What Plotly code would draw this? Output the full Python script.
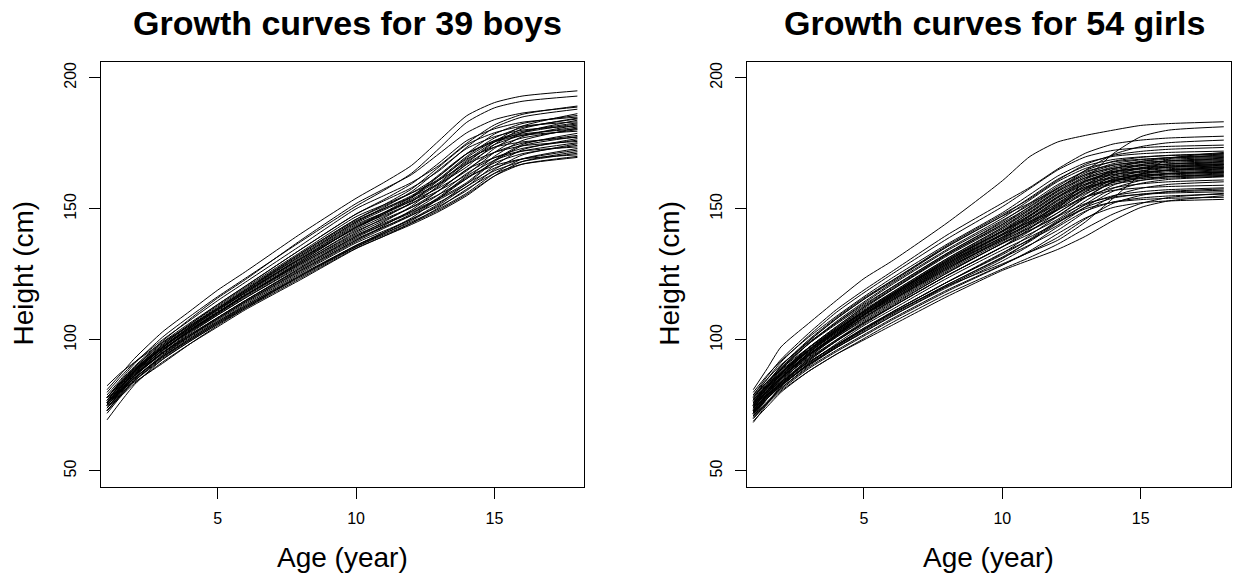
import plotly.graph_objects as go

# ---- data ----
AGES = [1, 1.5, 2, 3, 4, 5, 6, 8, 10, 11, 12, 13, 14, 15, 16, 18]

BOYS = [
    [81, 87, 93, 103, 111, 119, 126, 140.5, 154, 160, 166.5, 176, 185.5, 190.5, 193, 195],
    [79, 85, 91, 101, 109, 116.5, 123.5, 137.5, 151, 157, 163.5, 173, 183, 188.5, 191, 193],
    [80, 86, 91.5, 100, 107.5, 115, 122, 136, 150, 155, 160, 166.5, 175, 182, 186, 189.2],
    [78, 84.5, 90, 99.5, 108, 116, 123, 138, 152, 157.5, 163, 171, 179, 184, 186.5, 188.8],
    [77, 83.5, 89.5, 99, 106.5, 113.5, 120.5, 134.5, 148, 153, 158, 164.5, 173.5, 181, 185, 188],
    [78, 84, 89.5, 98.5, 106, 113, 120, 133.5, 147, 151.5, 156, 161, 167.5, 175.5, 181.5, 186.3],
    [76, 82.5, 88.5, 98, 105.5, 112.5, 119.5, 133, 146, 151, 156, 162.5, 171, 178.5, 182.5, 185.6],
    [77, 83, 89, 98, 106, 113.5, 120.5, 134.5, 148, 153.5, 159.5, 167.5, 176, 180.5, 183, 185],
    [75, 81.5, 87.5, 97, 105, 112, 119, 132, 145, 150, 155, 161.5, 170, 177, 181, 184.3],
    [76, 82, 88, 97, 104.5, 111.5, 118, 131, 144, 148.5, 153, 158, 164.5, 173, 179, 183.8],
    [78, 84, 89, 97.5, 105, 112, 119, 133, 146, 151.5, 157.5, 166, 174.5, 179, 181.5, 183.2],
    [74, 80.5, 86.5, 96, 104, 111, 118, 131.5, 144.5, 149.5, 154.5, 161, 169.5, 176, 179.5, 182.8],
    [77, 83, 88.5, 97, 104.5, 111.5, 118, 131, 143.5, 148.5, 153.5, 160, 168.5, 175.5, 179, 182.4],
    [75, 81, 87, 96, 103.5, 110.5, 117.5, 130.5, 143, 147.5, 152, 157, 163, 171.5, 177.5, 182],
    [76, 82, 88, 97, 104.5, 111.5, 118.5, 132, 145, 150.5, 156.5, 165, 173, 177.5, 180, 181.6],
    [73, 79.5, 86, 95.5, 103.5, 110.5, 117, 130, 143, 148, 153, 159.5, 168, 174.5, 178, 181.2],
    [76, 82, 87.5, 96, 103.5, 110.5, 117, 129.5, 141.5, 146, 150.5, 155.5, 161.5, 170, 176, 180.8],
    [78, 84, 89, 97, 104, 110.5, 117, 129.5, 142, 147, 152, 158.5, 167, 173.5, 177, 180.2],
    [74, 80, 86, 95, 103, 110, 117, 130, 143, 148.5, 154.5, 163, 171, 175.5, 178, 179.6],
    [74, 80.5, 86.5, 95, 102.5, 109.5, 116, 128.5, 140, 144.5, 149, 154, 160, 168.5, 174.5, 178.8],
    [76, 82, 87.5, 96, 103.5, 110.5, 117, 129, 140.5, 145.5, 150.5, 157, 165, 171.5, 175, 178],
    [77, 83, 88, 96.5, 103.5, 110, 116.5, 129, 141, 146.5, 152.5, 161, 169, 173.5, 175.5, 177.3],
    [75, 81, 86.5, 95, 102, 108.5, 115, 127, 138.5, 143, 147.5, 152.5, 158.5, 166.5, 172.5, 176.8],
    [73, 79, 85, 94, 101.5, 108.5, 115, 127.5, 139, 144, 149, 155.5, 163.5, 169.5, 173, 176.2],
    [75, 81, 86.5, 95, 102, 108.5, 115, 127.5, 139.5, 145, 151, 159, 167, 171.5, 174, 175.7],
    [76, 81.5, 86.5, 94.5, 101.5, 108, 114.5, 126.5, 138, 143, 148, 154.5, 162.5, 168.5, 172, 175.2],
    [72, 78.5, 84.5, 93.5, 100.5, 107, 113.5, 125.5, 137, 141.5, 146, 151, 157, 165, 170.5, 174.8],
    [74, 80, 85.5, 94, 101, 107.5, 114, 126, 137.5, 142.5, 147.5, 154, 161.5, 167.5, 171, 174.2],
    [77, 82.5, 87, 95, 101.5, 108, 114.5, 126.5, 138, 143.5, 149.5, 157, 165, 169.5, 172, 173.6],
    [73, 79, 84.5, 93, 100, 106.5, 112.5, 124.5, 136, 140.5, 145, 150, 156, 163.5, 169, 173],
    [75, 80.5, 85.5, 93.5, 100.5, 107, 113, 125, 136, 141, 146, 152, 159.5, 165.5, 169, 172.4],
    [69.5, 76.5, 83, 92.5, 99.5, 106, 112, 123.5, 135, 139.5, 144, 149, 155, 162.5, 168, 171.8],
    [74, 79.5, 84.5, 92.5, 99.5, 106, 112.5, 124, 135.5, 140.5, 145.5, 151.5, 158.5, 164.5, 168, 171.2],
    [76, 81, 85.5, 93.5, 100, 106.5, 113, 124.5, 136, 141, 146.5, 154, 162, 166.5, 169, 170.6],
    [77, 81, 84, 91, 98.5, 105.5, 112, 124.5, 135.5, 140, 144.5, 149.5, 155.5, 162.5, 167, 170],
    [73, 78.5, 83.5, 91.5, 98.5, 105, 111.5, 123, 134.8, 139.5, 144.5, 150.5, 157.5, 163.5, 167, 169.6],
    [78, 83.5, 88.5, 96.5, 103, 109.5, 116, 128, 139.5, 144, 148.5, 153.5, 159.5, 168, 174, 177.5],
    [82.5, 87.5, 91.5, 99, 105.5, 112, 118.5, 131, 142.5, 148, 154, 162.5, 171, 176, 178.5, 180.5],
    [75.5, 82, 88, 97.5, 105, 112, 119, 132.5, 145.5, 150, 154.5, 159.5, 166, 174.5, 180.5, 184.6],
]

GIRLS = [
    [81, 89, 97.3, 106.3, 115, 123.4, 130, 144.6, 160.7, 170, 175.5, 178, 180, 181.8, 182.5, 183.2],
    [75, 81, 86.5, 95.5, 103, 110, 116.5, 129, 140, 145, 150, 161, 171, 177.5, 180, 181.3],
    [79, 86, 92.5, 102.5, 111.5, 119, 126, 140, 152.2, 158.2, 165.2, 171.2, 174.7, 176.2, 177, 177.7],
    [77, 83.5, 90, 99.5, 108, 115.5, 122, 135.5, 147.2, 152.2, 157.7, 164.7, 170.7, 173.7, 175.2, 176.2],
    [78, 85, 91.5, 101.5, 110.5, 118, 125, 138.5, 150.8, 157.8, 164.8, 169.8, 172.3, 173.3, 173.8, 174.3],
    [76, 83, 90, 100, 108.5, 116, 122.5, 136, 147.9, 153.9, 160.9, 166.9, 170.4, 171.9, 172.7, 173.4],
    [72, 77.5, 82.5, 90.5, 97.5, 104, 110, 120.5, 129, 133.5, 138, 145, 154, 163, 169, 171.5],
    [77, 83, 89, 98.5, 106.5, 114, 121, 134, 145.6, 151.6, 158.6, 164.6, 168.1, 169.6, 170.4, 171.1],
    [75, 82, 89, 99.5, 108, 115.5, 122.5, 135.5, 147.3, 154.3, 161.3, 166.3, 168.8, 169.8, 170.3, 170.8],
    [74, 80.5, 87, 96, 104, 111, 117.5, 130.5, 141.5, 146.5, 152, 159, 165, 168, 169.5, 170.5],
    [79, 85, 90.5, 99, 106.5, 113.5, 120, 133, 144.7, 150.7, 157.7, 163.7, 167.2, 168.7, 169.5, 170.2],
    [76, 82.5, 88.5, 98.5, 107, 114.5, 121.5, 134.5, 146.4, 153.4, 160.4, 165.4, 167.9, 168.9, 169.4, 169.9],
    [73, 79.5, 86, 96, 104.5, 112, 119, 132.5, 144.1, 150.1, 157.1, 163.1, 166.6, 168.1, 168.9, 169.6],
    [76, 82, 87.5, 96, 103.5, 110.5, 117, 129.5, 140.3, 145.3, 150.8, 157.8, 163.8, 166.8, 168.3, 169.3],
    [75, 81.5, 87.5, 97, 105, 112.5, 119, 132, 143.5, 149.5, 156.5, 162.5, 166, 167.5, 168.3, 169],
    [77.5, 84, 89.5, 98.5, 106, 113, 120, 133, 145.2, 152.2, 159.2, 164.2, 166.7, 167.7, 168.2, 168.7],
    [72, 78.5, 85, 95, 103.5, 111, 118, 131, 142.9, 148.9, 155.9, 161.9, 165.4, 166.9, 167.7, 168.4],
    [74.5, 80.5, 86, 95, 102.5, 109.5, 116, 128.5, 139.1, 144.1, 149.6, 156.6, 162.6, 165.6, 167.1, 168.1],
    [76, 82, 87.5, 96.5, 104, 111, 117.5, 130.5, 142.3, 148.3, 155.3, 161.3, 164.8, 166.3, 167.1, 167.8],
    [74, 80.5, 87, 97, 105, 112.5, 119.5, 132.5, 144, 151, 158, 163, 165.5, 166.5, 167, 167.5],
    [78, 84, 89, 97, 104, 111, 117.5, 130, 141.7, 147.7, 154.7, 160.7, 164.2, 165.7, 166.5, 167.2],
    [73, 79, 85, 94, 101.5, 108.5, 115, 127.5, 137.9, 142.9, 148.4, 155.4, 161.4, 164.4, 165.9, 166.9],
    [74, 80.5, 86.5, 96, 103.5, 110.5, 117, 129.5, 141.1, 147.1, 154.1, 160.1, 163.6, 165.1, 165.9, 166.6],
    [76.5, 82.5, 88, 97, 104.5, 111.5, 118, 131, 142.8, 149.8, 156.8, 161.8, 164.3, 165.3, 165.8, 166.3],
    [71, 77.5, 84, 94, 102, 109.5, 116.5, 129, 140.5, 146.5, 153.5, 159.5, 163, 164.5, 165.3, 166],
    [75, 80.5, 85.5, 94, 101, 107.5, 114, 126, 136.7, 141.7, 147.2, 154.2, 160.2, 163.2, 164.7, 165.7],
    [73.5, 79.5, 85.5, 94.5, 102, 109.5, 116, 128.5, 139.9, 145.9, 152.9, 158.9, 162.4, 163.9, 164.7, 165.4],
    [75.5, 81.5, 87, 96, 103.5, 110.5, 117, 130, 141.6, 148.6, 155.6, 160.6, 163.1, 164.1, 164.6, 165.1],
    [77, 82.5, 87.5, 95.5, 102.5, 109.5, 115.5, 128, 139.3, 145.3, 152.3, 158.3, 161.8, 163.3, 164.1, 164.8],
    [72.5, 78.5, 84, 92.5, 99.5, 106.5, 112.5, 124.5, 135.5, 140.5, 146, 153, 159, 162, 163.5, 164.5],
    [74, 80, 85.5, 94.5, 102, 109, 115.5, 127.5, 138.7, 144.7, 151.7, 157.7, 161.2, 162.7, 163.5, 164.2],
    [73, 79.5, 85.5, 95, 103, 110, 116.5, 129, 140.4, 147.4, 154.4, 159.4, 161.9, 162.9, 163.4, 163.9],
    [76, 81.5, 86.5, 94.5, 101.5, 108.5, 115, 127, 138.1, 144.1, 151.1, 157.1, 160.6, 162.1, 162.9, 163.6],
    [70, 76, 82, 91, 98.5, 105.5, 111.5, 123.5, 134.3, 139.3, 144.8, 151.8, 157.8, 160.8, 162.3, 163.3],
    [73, 79, 84.5, 93.5, 101, 108, 114.5, 126.5, 137.5, 143.5, 150.5, 156.5, 160, 161.5, 162.3, 163],
    [78.5, 84, 88.5, 96, 103, 109.5, 116, 128, 139.2, 146.2, 153.2, 158.2, 160.7, 161.7, 162.2, 162.7],
    [72, 78, 83.5, 92.5, 100, 107, 113.5, 125.5, 136.9, 142.9, 149.9, 155.9, 159.4, 160.9, 161.7, 162.4],
    [74, 79, 83.5, 91.5, 98, 104.5, 110.5, 122, 133.2, 138.2, 143.7, 150.7, 156.7, 159.7, 161.2, 162.2],
    [80, 86.5, 92, 101, 109, 116.5, 123.5, 136.5, 148.5, 155.5, 162.5, 167.5, 170, 171, 171.5, 172],
    [71.5, 77.5, 83, 92, 99.5, 106.5, 113, 125.5, 136.9, 141.9, 147.4, 154.4, 160.4, 163.4, 164.9, 165.9],
    [68.5, 75.5, 82.5, 93, 101.5, 109.5, 117, 130, 141.5, 147.5, 154.5, 160.5, 164, 165.5, 166.3, 167],
    [75, 80.5, 85.5, 94, 101.5, 108.5, 115, 127, 138.5, 144.5, 151.5, 157.5, 161, 162.5, 163.3, 164],
    [73, 78.5, 83.5, 92, 99.5, 106, 112.5, 124.5, 135.5, 141.5, 148.5, 154.5, 158, 159.5, 160.3, 161],
    [70.5, 76, 81.5, 90, 97, 103.5, 109.5, 121, 131.3, 136.3, 141.8, 148.8, 154.8, 157.8, 159.3, 160.3],
    [74.5, 80, 85, 93, 100, 106.5, 112.5, 124.5, 135.5, 142.5, 149.5, 154.5, 157, 158, 158.5, 159],
    [72, 77.5, 82.5, 90.5, 97.5, 104, 110.5, 122, 132.5, 138.5, 145.5, 151.5, 155, 156.5, 157.3, 158],
    [71, 76.5, 81.5, 89.5, 96, 102, 108, 119, 128.6, 133.6, 139.1, 146.1, 152.1, 155.1, 156.6, 157.6],
    [75.5, 80, 84, 91.5, 98, 104, 110, 121, 131.6, 137.6, 144.6, 150.6, 154.1, 155.6, 156.4, 157.1],
    [72.5, 78, 83, 91, 98, 104.5, 110.5, 122, 133, 140, 147, 152, 154.5, 155.5, 156, 156.5],
    [69, 74.5, 80, 88, 94.5, 100.5, 106.5, 117.5, 127, 131.5, 136.5, 142.5, 148, 152, 154.3, 155.9],
    [73.5, 78.5, 83, 90.5, 97, 103, 109, 120, 130.1, 136.1, 143.1, 149.1, 152.6, 154.1, 154.9, 155.6],
    [70, 75.5, 80.5, 88, 94.5, 100, 105.5, 116.5, 126.5, 130.5, 134.5, 139.5, 145.5, 150.5, 153, 155],
    [72, 77.5, 82.5, 90.5, 97, 103, 109, 120.5, 131, 138, 145, 150, 152.5, 153.5, 154, 154.4],
    [71, 76, 81, 89, 95.5, 101.5, 107.5, 118.5, 128.5, 134, 140.5, 146.5, 150.5, 152.3, 153, 153.6],
]

X_TICKS = [5, 10, 15]
Y_TICKS = [50, 100, 150, 200]
TITLES = ["Growth curves for 39 boys", "Growth curves for 54 girls"]
X_LABEL = "Age (year)"
Y_LABEL = "Height (cm)"

# ---- layout geometry (pixels) ----
W, H = 1235, 577
FONT = "Liberation Sans, Arial, sans-serif"
panels = [(100.5, 584.3), (746.7, 1230.7)]
top_px, bot_px = 62.0, 486.7

fig = go.Figure()

for i, group in enumerate([BOYS, GIRLS]):
    xa = "x" if i == 0 else "x2"
    ya = "y" if i == 0 else "y2"
    for row in group:
        fig.add_trace(go.Scatter(
            x=AGES, y=row, mode="lines", xaxis=xa, yaxis=ya,
            line=dict(color="black", width=1, shape="spline", smoothing=0.6),
            showlegend=False, hoverinfo="skip",
        ))

TICKFONT = dict(family=FONT, size=16, color="black")
axis_common = dict(
    showline=True, mirror=True, linecolor="black", linewidth=1,
    ticks="outside", ticklen=11, tickwidth=1, tickcolor="black",
    showgrid=False, zeroline=False,
)

ydom = [1 - bot_px / H, 1 - top_px / H]
layout = dict(
    width=W, height=H, autosize=False,
    margin=dict(l=0, r=0, t=0, b=0),
    paper_bgcolor="white", plot_bgcolor="white",
    showlegend=False,
)
for i, (l, r) in enumerate(panels):
    sfx = "" if i == 0 else "2"
    layout["xaxis" + sfx] = dict(
        axis_common, domain=[l / W, r / W], range=[0.763, 18.25],
        tickmode="array", tickvals=X_TICKS, ticklabelstandoff=6,
        tickfont=TICKFONT, anchor="y" + sfx,
    )
    layout["yaxis" + sfx] = dict(
        axis_common, domain=ydom, range=[44, 206],
        tickmode="array", tickvals=Y_TICKS, tickangle=-90,
        ticklabelstandoff=6, tickfont=TICKFONT, anchor="x" + sfx,
    )
fig.update_layout(**layout)

ann = []
for i, (l, r) in enumerate(panels):
    cx = (l + r) / 2
    ann.append(dict(text="<b>" + TITLES[i] + "</b>", x=(cx + 5.5) / W, y=1 - 23 / H,
                    xref="paper", yref="paper", showarrow=False,
                    xanchor="center", yanchor="middle",
                    font=dict(family=FONT, size=34, color="black")))
    ann.append(dict(text=X_LABEL, x=cx / W, y=1 - 557 / H,
                    xref="paper", yref="paper", showarrow=False,
                    xanchor="center", yanchor="middle",
                    font=dict(family=FONT, size=28, color="black")))
    ann.append(dict(text=Y_LABEL, x=(l - 78) / W, y=1 - 273 / H,
                    xref="paper", yref="paper", showarrow=False,
                    xanchor="center", yanchor="middle", textangle=-90,
                    font=dict(family=FONT, size=28, color="black")))
fig.update_layout(annotations=ann)

fig.write_html("out.html", config={"displayModeBar": False, "staticPlot": True})

# remove the browser's default 8px page margin so the figure sits at (0, 0)
with open("out.html", "r", encoding="utf-8") as f:
    html = f.read()
html = html.replace("<head>", "<head><style>html,body{margin:0;padding:0;overflow:hidden;}</style>", 1)
with open("out.html", "w", encoding="utf-8") as f:
    f.write(html)
